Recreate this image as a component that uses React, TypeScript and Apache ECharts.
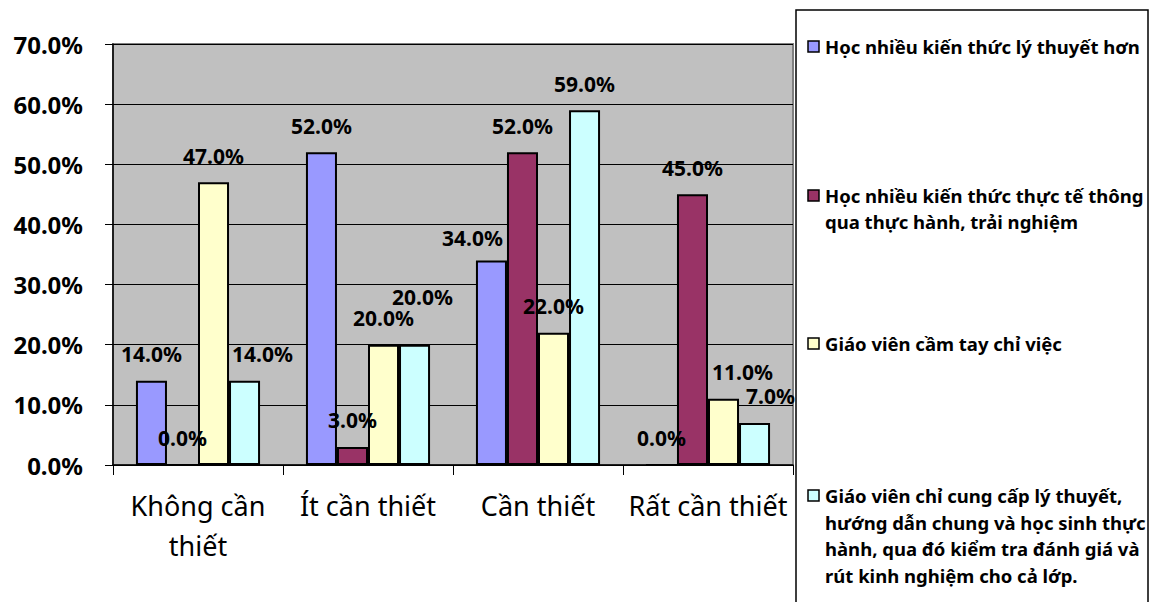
import React, { useEffect, useRef } from "react";
import * as echarts from "echarts";

const categories = ["Không cần thiết", "Ít cần thiết", "Cần thiết", "Rất cần thiết"];
const seriesNames = [
  "Học nhiều kiến thức lý thuyết hơn",
  "Học nhiều kiến thức thực tế thông qua thực hành, trải nghiệm",
  "Giáo viên cầm tay chỉ việc",
  "Giáo viên chỉ cung cấp lý thuyết, hướng dẫn chung và học sinh thực hành, qua đó kiểm tra đánh giá và rút kinh nghiệm cho cả lớp.",
];
const seriesLegendLines = [
  ["Học nhiều kiến thức lý thuyết hơn"],
  ["Học nhiều kiến thức thực tế thông", "qua thực hành, trải nghiệm"],
  ["Giáo viên cầm tay chỉ việc"],
  [
    "Giáo viên chỉ cung cấp lý thuyết,",
    "hướng dẫn chung và học sinh thực",
    "hành, qua đó kiểm tra đánh giá và",
    "rút kinh nghiệm cho cả lớp.",
  ],
];
const lyThuyet = [14, 52, 34, 0];
const thucTe = [0, 3, 52, 45];
const camTay = [47, 20, 22, 11];
const cungCap = [14, 20, 59, 7];
const seriesValues = [lyThuyet, thucTe, camTay, cungCap];
const yTicks = [0, 10, 20, 30, 40, 50, 60, 70];

// styling (not data)
const colors = ["#9999FF", "#993366", "#FFFFCC", "#CCFFFF"];
const labelShift: Record<string, number[]> = {
  "3-0": [18, 0],
  "3-1": [8, -21],
  "0-2": [-19, 4],
  "2-3": [19, 0],
  "3-3": [16, 0],
};
const legendY = [[46], [195, 221], [343], [495, 522, 548, 575]];

export default function App() {
  const ref = useRef<HTMLDivElement>(null);
  useEffect(() => {
    document.body.style.margin = "0";
    const chart = echarts.init(ref.current!, null, { renderer: "svg" });
    const font = "'Noto Sans', sans-serif";
    const series = seriesValues.map((vals, si) => ({
      name: seriesNames[si],
      type: "bar",
      barGap: "0%",
      barCategoryGap: "27%",
      data: vals.map((v, ci) => {
        const sh = labelShift[`${si}-${ci}`];
        return sh ? { value: v, label: { offset: sh } } : { value: v };
      }),
      itemStyle: { color: colors[si], borderColor: "#000", borderWidth: 2 },
      label: {
        show: true,
        position: "top",
        distance: 16,
        formatter: (p: any) => `${Number(p.value).toFixed(1)}%`,
        color: "#000",
        fontFamily: font,
        fontWeight: "bold",
        fontSize: 21,
      },
    }));
    const graphics: any[] = [
      {
        type: "rect",
        shape: { x: 796, y: 10, width: 352, height: 600 },
        style: { fill: "#fff", stroke: "#000", lineWidth: 1.5 },
        z: 1,
      },
    ];
    seriesLegendLines.forEach((lines, si) => {
      const y0 = legendY[si][0];
      graphics.push({
        type: "rect",
        shape: { x: 808, y: y0 - 5, width: 11, height: 11 },
        style: { fill: colors[si], stroke: "#000", lineWidth: 1.5 },
        z: 2,
      });
      lines.forEach((ln, li) => {
        graphics.push({
          type: "text",
          x: 825,
          y: legendY[si][li],
          style: {
            text: ln,
            fill: "#000",
            font: `bold 18.5px ${font}`,
            verticalAlign: "middle",
          },
          z: 2,
        });
      });
    });
    chart.setOption({
      animation: false,
      backgroundColor: "#fff",
      grid: {
        left: 113,
        right: 357,
        top: 44,
        bottom: 137,
        show: true,
        backgroundColor: "#C0C0C0",
        borderColor: "#808080",
        borderWidth: 2,
      },
      xAxis: {
        type: "category",
        data: categories,
        axisLine: { lineStyle: { color: "#000", width: 1.5 } },
        axisTick: { show: true, length: 10, lineStyle: { color: "#000" } },
        axisLabel: {
          color: "#000",
          fontFamily: font,
          fontSize: 27,
          margin: 20,
          lineHeight: 40,
          interval: 0,
          formatter: (v: string) => {
            if (v.length <= 13) return v;
            const i = v.lastIndexOf(" ");
            return v.slice(0, i) + "\n" + v.slice(i + 1);
          },
        },
      },
      yAxis: {
        type: "value",
        min: yTicks[0],
        max: yTicks[yTicks.length - 1],
        interval: 10,
        axisLine: { show: true, lineStyle: { color: "#000", width: 1.5 } },
        axisTick: { show: true, length: 8, lineStyle: { color: "#000" } },
        splitLine: { show: true, lineStyle: { color: "#000", width: 1 } },
        axisLabel: {
          color: "#000",
          fontFamily: font,
          fontWeight: "bold",
          fontSize: 24,
          margin: 30,
          formatter: (v: number) => `${v.toFixed(1)}%`,
        },
      },
      series,
      graphic: graphics,
    });
    return () => chart.dispose();
  }, []);
  return <div ref={ref} style={{ width: 1150, height: 602 }} />;
}
